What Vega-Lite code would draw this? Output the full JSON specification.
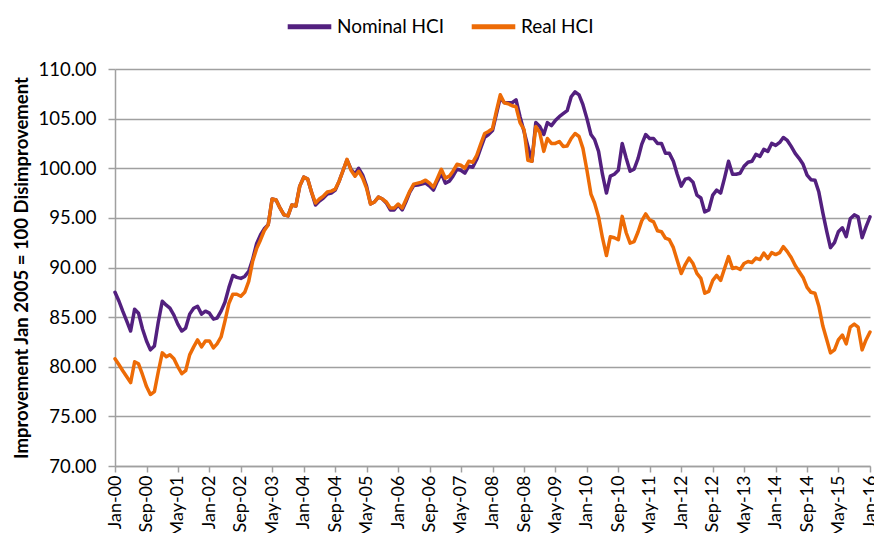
{
"$schema": "https://vega.github.io/schema/vega-lite/v6.json",
"width": 755, "height": 397,
"autosize": {"type": "none"},
"padding": {"left": 115, "top": 69, "right": 4, "bottom": 67},
"background": "white",
"config": {"view": {"stroke": null}, "font": "Lato"},
"data": {"values": [
{"d":"2000-01-01","Nominal HCI":87.5,"Real HCI":80.8},
{"d":"2000-02-01","Nominal HCI":86.6,"Real HCI":80.2},
{"d":"2000-03-01","Nominal HCI":85.6,"Real HCI":79.6},
{"d":"2000-04-01","Nominal HCI":84.6,"Real HCI":79.0},
{"d":"2000-05-01","Nominal HCI":83.6,"Real HCI":78.4},
{"d":"2000-06-01","Nominal HCI":85.8,"Real HCI":80.5},
{"d":"2000-07-01","Nominal HCI":85.4,"Real HCI":80.3},
{"d":"2000-08-01","Nominal HCI":83.8,"Real HCI":79.2},
{"d":"2000-09-01","Nominal HCI":82.6,"Real HCI":78.0},
{"d":"2000-10-01","Nominal HCI":81.7,"Real HCI":77.2},
{"d":"2000-11-01","Nominal HCI":82.1,"Real HCI":77.5},
{"d":"2000-12-01","Nominal HCI":84.5,"Real HCI":79.5},
{"d":"2001-01-01","Nominal HCI":86.6,"Real HCI":81.4},
{"d":"2001-02-01","Nominal HCI":86.2,"Real HCI":81.0},
{"d":"2001-03-01","Nominal HCI":85.9,"Real HCI":81.2},
{"d":"2001-04-01","Nominal HCI":85.2,"Real HCI":80.8},
{"d":"2001-05-01","Nominal HCI":84.3,"Real HCI":80.0},
{"d":"2001-06-01","Nominal HCI":83.6,"Real HCI":79.3},
{"d":"2001-07-01","Nominal HCI":83.9,"Real HCI":79.6},
{"d":"2001-08-01","Nominal HCI":85.3,"Real HCI":81.2},
{"d":"2001-09-01","Nominal HCI":85.9,"Real HCI":82.0},
{"d":"2001-10-01","Nominal HCI":86.1,"Real HCI":82.7},
{"d":"2001-11-01","Nominal HCI":85.3,"Real HCI":82.0},
{"d":"2001-12-01","Nominal HCI":85.6,"Real HCI":82.6},
{"d":"2002-01-01","Nominal HCI":85.4,"Real HCI":82.6},
{"d":"2002-02-01","Nominal HCI":84.8,"Real HCI":81.9},
{"d":"2002-03-01","Nominal HCI":84.9,"Real HCI":82.3},
{"d":"2002-04-01","Nominal HCI":85.6,"Real HCI":83.0},
{"d":"2002-05-01","Nominal HCI":86.5,"Real HCI":84.6},
{"d":"2002-06-01","Nominal HCI":88.0,"Real HCI":86.4},
{"d":"2002-07-01","Nominal HCI":89.2,"Real HCI":87.3},
{"d":"2002-08-01","Nominal HCI":89.0,"Real HCI":87.3},
{"d":"2002-09-01","Nominal HCI":88.9,"Real HCI":87.1},
{"d":"2002-10-01","Nominal HCI":89.1,"Real HCI":87.5},
{"d":"2002-11-01","Nominal HCI":89.6,"Real HCI":88.6},
{"d":"2002-12-01","Nominal HCI":90.8,"Real HCI":90.6},
{"d":"2003-01-01","Nominal HCI":92.4,"Real HCI":91.9},
{"d":"2003-02-01","Nominal HCI":93.3,"Real HCI":92.8},
{"d":"2003-03-01","Nominal HCI":93.9,"Real HCI":93.7},
{"d":"2003-04-01","Nominal HCI":94.3,"Real HCI":94.3},
{"d":"2003-05-01","Nominal HCI":96.9,"Real HCI":96.9},
{"d":"2003-06-01","Nominal HCI":96.8,"Real HCI":96.8},
{"d":"2003-07-01","Nominal HCI":96.0,"Real HCI":96.0},
{"d":"2003-08-01","Nominal HCI":95.3,"Real HCI":95.3},
{"d":"2003-09-01","Nominal HCI":95.2,"Real HCI":95.2},
{"d":"2003-10-01","Nominal HCI":96.3,"Real HCI":96.3},
{"d":"2003-11-01","Nominal HCI":96.2,"Real HCI":96.2},
{"d":"2003-12-01","Nominal HCI":98.2,"Real HCI":98.2},
{"d":"2004-01-01","Nominal HCI":99.1,"Real HCI":99.1},
{"d":"2004-02-01","Nominal HCI":98.9,"Real HCI":98.9},
{"d":"2004-03-01","Nominal HCI":97.6,"Real HCI":97.6},
{"d":"2004-04-01","Nominal HCI":96.3,"Real HCI":96.5},
{"d":"2004-05-01","Nominal HCI":96.7,"Real HCI":96.9},
{"d":"2004-06-01","Nominal HCI":97.0,"Real HCI":97.2},
{"d":"2004-07-01","Nominal HCI":97.4,"Real HCI":97.6},
{"d":"2004-08-01","Nominal HCI":97.5,"Real HCI":97.7},
{"d":"2004-09-01","Nominal HCI":97.8,"Real HCI":97.9},
{"d":"2004-10-01","Nominal HCI":98.7,"Real HCI":98.7},
{"d":"2004-11-01","Nominal HCI":99.8,"Real HCI":99.8},
{"d":"2004-12-01","Nominal HCI":100.85,"Real HCI":100.9},
{"d":"2005-01-01","Nominal HCI":99.9,"Real HCI":99.8},
{"d":"2005-02-01","Nominal HCI":99.4,"Real HCI":99.2},
{"d":"2005-03-01","Nominal HCI":100.0,"Real HCI":99.7},
{"d":"2005-04-01","Nominal HCI":99.3,"Real HCI":99.0},
{"d":"2005-05-01","Nominal HCI":98.2,"Real HCI":98.0},
{"d":"2005-06-01","Nominal HCI":96.4,"Real HCI":96.4},
{"d":"2005-07-01","Nominal HCI":96.6,"Real HCI":96.6},
{"d":"2005-08-01","Nominal HCI":97.1,"Real HCI":97.1},
{"d":"2005-09-01","Nominal HCI":96.9,"Real HCI":96.9},
{"d":"2005-10-01","Nominal HCI":96.5,"Real HCI":96.6},
{"d":"2005-11-01","Nominal HCI":95.8,"Real HCI":96.0},
{"d":"2005-12-01","Nominal HCI":95.8,"Real HCI":96.0},
{"d":"2006-01-01","Nominal HCI":96.3,"Real HCI":96.4},
{"d":"2006-02-01","Nominal HCI":95.8,"Real HCI":96.0},
{"d":"2006-03-01","Nominal HCI":96.6,"Real HCI":96.8},
{"d":"2006-04-01","Nominal HCI":97.6,"Real HCI":97.7},
{"d":"2006-05-01","Nominal HCI":98.25,"Real HCI":98.4},
{"d":"2006-06-01","Nominal HCI":98.3,"Real HCI":98.5},
{"d":"2006-07-01","Nominal HCI":98.4,"Real HCI":98.6},
{"d":"2006-08-01","Nominal HCI":98.5,"Real HCI":98.8},
{"d":"2006-09-01","Nominal HCI":98.2,"Real HCI":98.5},
{"d":"2006-10-01","Nominal HCI":97.8,"Real HCI":98.1},
{"d":"2006-11-01","Nominal HCI":98.7,"Real HCI":99.0},
{"d":"2006-12-01","Nominal HCI":99.5,"Real HCI":99.9},
{"d":"2007-01-01","Nominal HCI":98.5,"Real HCI":99.0},
{"d":"2007-02-01","Nominal HCI":98.7,"Real HCI":99.2},
{"d":"2007-03-01","Nominal HCI":99.2,"Real HCI":99.7},
{"d":"2007-04-01","Nominal HCI":99.9,"Real HCI":100.4},
{"d":"2007-05-01","Nominal HCI":99.8,"Real HCI":100.3},
{"d":"2007-06-01","Nominal HCI":99.5,"Real HCI":100.0},
{"d":"2007-07-01","Nominal HCI":100.2,"Real HCI":100.7},
{"d":"2007-08-01","Nominal HCI":100.1,"Real HCI":100.6},
{"d":"2007-09-01","Nominal HCI":100.9,"Real HCI":101.3},
{"d":"2007-10-01","Nominal HCI":102.0,"Real HCI":102.4},
{"d":"2007-11-01","Nominal HCI":103.1,"Real HCI":103.5},
{"d":"2007-12-01","Nominal HCI":103.4,"Real HCI":103.7},
{"d":"2008-01-01","Nominal HCI":103.8,"Real HCI":104.0},
{"d":"2008-02-01","Nominal HCI":105.5,"Real HCI":105.8},
{"d":"2008-03-01","Nominal HCI":107.1,"Real HCI":107.4},
{"d":"2008-04-01","Nominal HCI":106.6,"Real HCI":106.6},
{"d":"2008-05-01","Nominal HCI":106.6,"Real HCI":106.5},
{"d":"2008-06-01","Nominal HCI":106.6,"Real HCI":106.3},
{"d":"2008-07-01","Nominal HCI":106.9,"Real HCI":106.2},
{"d":"2008-08-01","Nominal HCI":105.2,"Real HCI":104.6},
{"d":"2008-09-01","Nominal HCI":103.7,"Real HCI":103.9},
{"d":"2008-10-01","Nominal HCI":102.2,"Real HCI":100.8},
{"d":"2008-11-01","Nominal HCI":100.7,"Real HCI":100.7},
{"d":"2008-12-01","Nominal HCI":104.6,"Real HCI":104.2},
{"d":"2009-01-01","Nominal HCI":104.2,"Real HCI":103.6},
{"d":"2009-02-01","Nominal HCI":103.4,"Real HCI":101.7},
{"d":"2009-03-01","Nominal HCI":104.6,"Real HCI":103.0},
{"d":"2009-04-01","Nominal HCI":104.3,"Real HCI":102.5},
{"d":"2009-05-01","Nominal HCI":104.8,"Real HCI":102.5},
{"d":"2009-06-01","Nominal HCI":105.2,"Real HCI":102.7},
{"d":"2009-07-01","Nominal HCI":105.5,"Real HCI":102.2},
{"d":"2009-08-01","Nominal HCI":105.8,"Real HCI":102.25},
{"d":"2009-09-01","Nominal HCI":107.2,"Real HCI":103.0},
{"d":"2009-10-01","Nominal HCI":107.7,"Real HCI":103.5},
{"d":"2009-11-01","Nominal HCI":107.4,"Real HCI":103.2},
{"d":"2009-12-01","Nominal HCI":106.4,"Real HCI":102.0},
{"d":"2010-01-01","Nominal HCI":105.0,"Real HCI":99.8},
{"d":"2010-02-01","Nominal HCI":103.4,"Real HCI":97.4},
{"d":"2010-03-01","Nominal HCI":102.9,"Real HCI":96.5},
{"d":"2010-04-01","Nominal HCI":101.7,"Real HCI":95.1},
{"d":"2010-05-01","Nominal HCI":99.4,"Real HCI":93.0},
{"d":"2010-06-01","Nominal HCI":97.5,"Real HCI":91.2},
{"d":"2010-07-01","Nominal HCI":99.2,"Real HCI":93.1},
{"d":"2010-08-01","Nominal HCI":99.4,"Real HCI":93.0},
{"d":"2010-09-01","Nominal HCI":99.8,"Real HCI":92.8},
{"d":"2010-10-01","Nominal HCI":102.5,"Real HCI":95.15},
{"d":"2010-11-01","Nominal HCI":101.0,"Real HCI":93.5},
{"d":"2010-12-01","Nominal HCI":99.7,"Real HCI":92.45},
{"d":"2011-01-01","Nominal HCI":99.9,"Real HCI":92.6},
{"d":"2011-02-01","Nominal HCI":101.0,"Real HCI":93.6},
{"d":"2011-03-01","Nominal HCI":102.4,"Real HCI":94.7},
{"d":"2011-04-01","Nominal HCI":103.4,"Real HCI":95.4},
{"d":"2011-05-01","Nominal HCI":103.0,"Real HCI":94.8},
{"d":"2011-06-01","Nominal HCI":103.0,"Real HCI":94.6},
{"d":"2011-07-01","Nominal HCI":102.5,"Real HCI":93.7},
{"d":"2011-08-01","Nominal HCI":102.5,"Real HCI":93.6},
{"d":"2011-09-01","Nominal HCI":101.5,"Real HCI":92.95},
{"d":"2011-10-01","Nominal HCI":101.5,"Real HCI":92.8},
{"d":"2011-11-01","Nominal HCI":100.7,"Real HCI":92.0},
{"d":"2011-12-01","Nominal HCI":99.4,"Real HCI":90.7},
{"d":"2012-01-01","Nominal HCI":98.2,"Real HCI":89.4},
{"d":"2012-02-01","Nominal HCI":98.9,"Real HCI":90.3},
{"d":"2012-03-01","Nominal HCI":99.0,"Real HCI":90.95},
{"d":"2012-04-01","Nominal HCI":98.6,"Real HCI":90.4},
{"d":"2012-05-01","Nominal HCI":97.3,"Real HCI":89.4},
{"d":"2012-06-01","Nominal HCI":97.0,"Real HCI":88.9},
{"d":"2012-07-01","Nominal HCI":95.6,"Real HCI":87.4},
{"d":"2012-08-01","Nominal HCI":95.8,"Real HCI":87.6},
{"d":"2012-09-01","Nominal HCI":97.3,"Real HCI":88.7},
{"d":"2012-10-01","Nominal HCI":97.8,"Real HCI":89.2},
{"d":"2012-11-01","Nominal HCI":97.5,"Real HCI":88.7},
{"d":"2012-12-01","Nominal HCI":99.0,"Real HCI":89.9},
{"d":"2013-01-01","Nominal HCI":100.7,"Real HCI":91.1},
{"d":"2013-02-01","Nominal HCI":99.4,"Real HCI":89.9},
{"d":"2013-03-01","Nominal HCI":99.4,"Real HCI":90.0},
{"d":"2013-04-01","Nominal HCI":99.5,"Real HCI":89.8},
{"d":"2013-05-01","Nominal HCI":100.2,"Real HCI":90.4},
{"d":"2013-06-01","Nominal HCI":100.6,"Real HCI":90.6},
{"d":"2013-07-01","Nominal HCI":100.7,"Real HCI":90.5},
{"d":"2013-08-01","Nominal HCI":101.4,"Real HCI":90.95},
{"d":"2013-09-01","Nominal HCI":101.2,"Real HCI":90.8},
{"d":"2013-10-01","Nominal HCI":101.9,"Real HCI":91.45},
{"d":"2013-11-01","Nominal HCI":101.7,"Real HCI":90.9},
{"d":"2013-12-01","Nominal HCI":102.5,"Real HCI":91.5},
{"d":"2014-01-01","Nominal HCI":102.3,"Real HCI":91.3},
{"d":"2014-02-01","Nominal HCI":102.6,"Real HCI":91.5},
{"d":"2014-03-01","Nominal HCI":103.1,"Real HCI":92.1},
{"d":"2014-04-01","Nominal HCI":102.8,"Real HCI":91.6},
{"d":"2014-05-01","Nominal HCI":102.2,"Real HCI":91.0},
{"d":"2014-06-01","Nominal HCI":101.5,"Real HCI":90.2},
{"d":"2014-07-01","Nominal HCI":101.0,"Real HCI":89.6},
{"d":"2014-08-01","Nominal HCI":100.4,"Real HCI":89.0},
{"d":"2014-09-01","Nominal HCI":99.3,"Real HCI":88.0},
{"d":"2014-10-01","Nominal HCI":98.85,"Real HCI":87.5},
{"d":"2014-11-01","Nominal HCI":98.8,"Real HCI":87.4},
{"d":"2014-12-01","Nominal HCI":97.6,"Real HCI":86.1},
{"d":"2015-01-01","Nominal HCI":95.5,"Real HCI":84.1},
{"d":"2015-02-01","Nominal HCI":93.6,"Real HCI":82.7},
{"d":"2015-03-01","Nominal HCI":92.0,"Real HCI":81.4},
{"d":"2015-04-01","Nominal HCI":92.5,"Real HCI":81.7},
{"d":"2015-05-01","Nominal HCI":93.6,"Real HCI":82.7},
{"d":"2015-06-01","Nominal HCI":94.0,"Real HCI":83.2},
{"d":"2015-07-01","Nominal HCI":93.1,"Real HCI":82.3},
{"d":"2015-08-01","Nominal HCI":94.9,"Real HCI":84.0},
{"d":"2015-09-01","Nominal HCI":95.3,"Real HCI":84.3},
{"d":"2015-10-01","Nominal HCI":95.1,"Real HCI":84.0},
{"d":"2015-11-01","Nominal HCI":93.0,"Real HCI":81.7},
{"d":"2015-12-01","Nominal HCI":94.1,"Real HCI":82.7},
{"d":"2016-01-01","Nominal HCI":95.1,"Real HCI":83.5}
]},
"transform": [{"fold": ["Nominal HCI", "Real HCI"], "as": ["series", "value"]}],
"mark": {"type": "line", "strokeWidth": 3.5, "strokeJoin": "round", "strokeCap": "round"},
"encoding": {
  "x": {"field": "d", "type": "temporal",
    "scale": {"type": "utc", "domain": [{"year": 2000, "month": 1, "date": 1, "utc": true}, {"year": 2016, "month": 1, "date": 1, "utc": true}]},
    "axis": {
      "values": [
        {"year":2000,"month":1,"date":1,"utc":true},{"year":2000,"month":9,"date":1,"utc":true},
        {"year":2001,"month":5,"date":1,"utc":true},{"year":2002,"month":1,"date":1,"utc":true},
        {"year":2002,"month":9,"date":1,"utc":true},{"year":2003,"month":5,"date":1,"utc":true},
        {"year":2004,"month":1,"date":1,"utc":true},{"year":2004,"month":9,"date":1,"utc":true},
        {"year":2005,"month":5,"date":1,"utc":true},{"year":2006,"month":1,"date":1,"utc":true},
        {"year":2006,"month":9,"date":1,"utc":true},{"year":2007,"month":5,"date":1,"utc":true},
        {"year":2008,"month":1,"date":1,"utc":true},{"year":2008,"month":9,"date":1,"utc":true},
        {"year":2009,"month":5,"date":1,"utc":true},{"year":2010,"month":1,"date":1,"utc":true},
        {"year":2010,"month":9,"date":1,"utc":true},{"year":2011,"month":5,"date":1,"utc":true},
        {"year":2012,"month":1,"date":1,"utc":true},{"year":2012,"month":9,"date":1,"utc":true},
        {"year":2013,"month":5,"date":1,"utc":true},{"year":2014,"month":1,"date":1,"utc":true},
        {"year":2014,"month":9,"date":1,"utc":true},{"year":2015,"month":5,"date":1,"utc":true},
        {"year":2016,"month":1,"date":1,"utc":true}
      ],
      "labelExpr": "utcFormat(datum.value, '%b-%y')",
      "title": null, "grid": false,
      "domainColor": "#a0a0a0", "domainWidth": 1.5,
      "tickColor": "#a0a0a0", "tickWidth": 1.5, "tickSize": 6,
      "labelAngle": -90, "labelAlign": "right", "labelBaseline": "middle",
      "labelFontSize": 18, "labelColor": "#000000", "labelPadding": 3,
      "labelOverlap": false, "labelFlush": false
    }
  },
  "y": {"field": "value", "type": "quantitative",
    "scale": {"domain": [70, 110]},
    "axis": {
      "values": [70, 75, 80, 85, 90, 95, 100, 105, 110],
      "format": ".2f",
      "grid": true, "gridColor": "#a0a0a0", "gridWidth": 1.5,
      "domainColor": "#a0a0a0", "domainWidth": 1.5,
      "tickColor": "#a0a0a0", "tickWidth": 1.5, "tickSize": 7,
      "labelFontSize": 18.5, "labelColor": "#000000", "labelPadding": 12,
      "title": "Improvement Jan 2005 = 100 Disimprovement",
      "titleFontSize": 18.5, "titleFontWeight": "bold", "titleColor": "#000000",
      "titlePadding": 6
    }
  },
  "color": {"field": "series", "type": "nominal",
    "scale": {"domain": ["Nominal HCI", "Real HCI"], "range": ["#53207F", "#ED6B06"]},
    "legend": {
      "orient": "none", "legendX": 170, "legendY": -67,
      "direction": "horizontal", "title": null,
      "symbolType": "stroke", "symbolSize": 1900, "symbolStrokeWidth": 5,
      "labelFontSize": 19, "labelColor": "#000000", "labelOffset": 3,
      "columnPadding": 16
    }
  }
}
}
